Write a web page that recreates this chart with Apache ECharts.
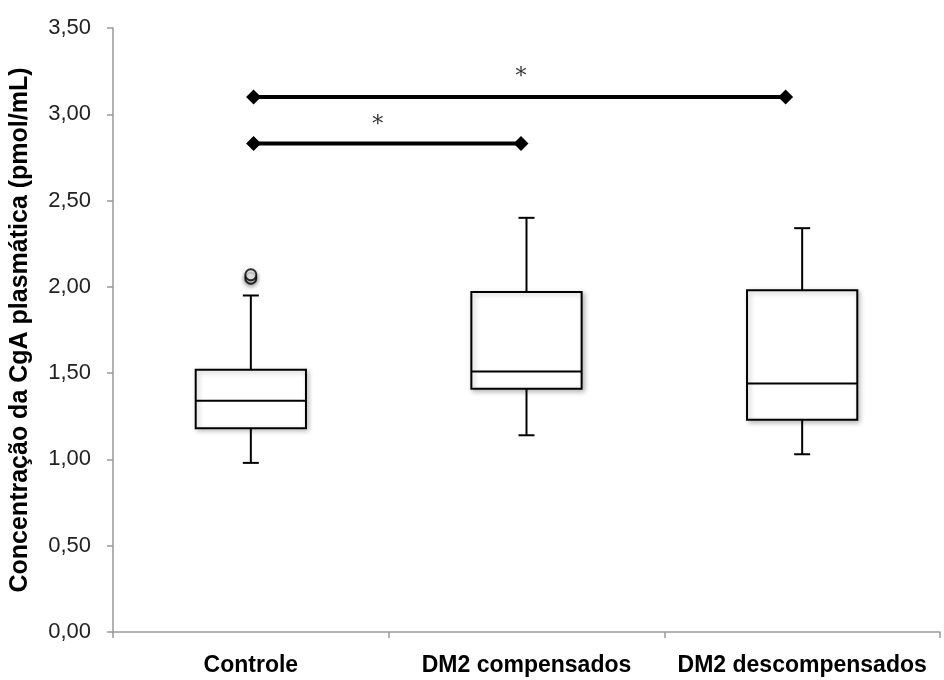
<!DOCTYPE html>
<html>
<head>
<meta charset="utf-8">
<script src="https://cdn.jsdelivr.net/npm/echarts@6/dist/echarts.min.js"></script>
<style>
  html, body { margin: 0; padding: 0; background: #fff; }
  #chart { width: 944px; height: 680px; }
</style>
</head>
<body>
<div id="chart"></div>
<script>
// groups on the x axis
const categories = ['Controle', 'DM2 compensados', 'DM2 descompensados']
// [min, Q1, mediana, Q3, max]
const boxValues = [
  [0.98, 1.18, 1.34, 1.52, 1.95],
  [1.14, 1.41, 1.51, 1.97, 2.40],
  [1.03, 1.23, 1.44, 1.98, 2.34]
]
// [category index, value]
const outliers = [[0, 2.05], [0, 2.07]]
// significance bars on a 0..3 value scale: [xStart, xEnd, y]
const sigBars = [[0.51, 2.44, 3.10], [0.51, 1.48, 2.83]]
// asterisks: [x, y]
const sigStars = [[1.48, 3.215], [0.96, 2.935]]
const yMin = 0
const yMax = 3.5
const yInterval = 0.5

const chart = echarts.init(document.getElementById('chart'))

function renderBox(params, api) {
  const idx = api.value(0)
  const low = api.coord([idx, api.value(1)])
  const q1 = api.coord([idx, api.value(2)])
  const med = api.coord([idx, api.value(3)])
  const q3 = api.coord([idx, api.value(4)])
  const high = api.coord([idx, api.value(5)])
  const half = api.size([1, 0])[0] * 0.2
  const cap = 8
  const x = low[0]
  const line = { stroke: '#000', lineWidth: 2 }
  return {
    type: 'group',
    children: [
      { type: 'line', shape: { x1: x, y1: high[1], x2: x, y2: q3[1] }, style: line },
      { type: 'line', shape: { x1: x - cap, y1: high[1], x2: x + cap, y2: high[1] }, style: line },
      { type: 'line', shape: { x1: x, y1: q1[1], x2: x, y2: low[1] }, style: line },
      { type: 'line', shape: { x1: x - cap, y1: low[1], x2: x + cap, y2: low[1] }, style: line },
      {
        type: 'rect',
        shape: { x: x - half, y: q3[1], width: half * 2, height: q1[1] - q3[1] },
        style: {
          fill: '#fff', stroke: '#000', lineWidth: 2,
          shadowBlur: 5, shadowColor: 'rgba(0,0,0,0.25)', shadowOffsetX: 2, shadowOffsetY: 2
        }
      },
      { type: 'line', shape: { x1: x - half, y1: med[1], x2: x + half, y2: med[1] }, style: line }
    ]
  }
}

const series = [
  {
    type: 'custom',
    renderItem: renderBox,
    data: boxValues.map((b, i) => [i].concat(b)),
    z: 2
  },
  {
    type: 'scatter',
    data: outliers,
    symbol: 'circle',
    symbolSize: 11,
    itemStyle: {
      color: '#fff', borderColor: '#000', borderWidth: 2,
      shadowBlur: 5, shadowColor: 'rgba(0,0,0,0.4)', shadowOffsetY: 2
    },
    z: 3
  }
]

sigBars.forEach(function(b) {
  series.push({
    type: 'line',
    xAxisIndex: 1,
    data: [[b[0], b[2]], [b[1], b[2]]],
    symbol: 'diamond',
    symbolSize: 15,
    showSymbol: true,
    itemStyle: { color: '#000' },
    lineStyle: { color: '#000', width: 4 },
    z: 4
  })
})

series.push({
  type: 'scatter',
  xAxisIndex: 1,
  data: sigStars,
  symbolSize: 1,
  itemStyle: { color: 'rgba(0,0,0,0)' },
  label: {
    show: true,
    position: 'inside',
    formatter: '*',
    fontFamily: 'DejaVu Serif',
    fontSize: 22,
    color: '#000'
  },
  z: 5
})

const option = {
  animation: false,
  backgroundColor: '#fff',
  grid: { left: 113, right: 4, top: 28, bottom: 48 },
  xAxis: [
    {
      type: 'category',
      data: categories,
      boundaryGap: true,
      axisLine: { lineStyle: { color: '#999', width: 1.5 } },
      axisTick: { show: true, length: 6, interval: 0, lineStyle: { color: '#999', width: 1.5 } },
      axisLabel: {
        margin: 22,
        interval: 0,
        color: '#000',
        fontFamily: 'Liberation Sans',
        fontWeight: 'bold',
        fontSize: 23
      },
      splitLine: { show: false }
    },
    {
      type: 'value',
      min: 0,
      max: 3,
      show: false
    }
  ],
  yAxis: {
    type: 'value',
    min: yMin,
    max: yMax,
    interval: yInterval,
    name: 'Concentração da CgA plasmática (pmol/mL)',
    nameLocation: 'middle',
    nameGap: 80,
    nameTextStyle: {
      color: '#000',
      fontFamily: 'Liberation Sans',
      fontWeight: 'bold',
      fontSize: 25
    },
    axisLine: { show: true, lineStyle: { color: '#999', width: 1.5 } },
    axisTick: { show: true, length: 6, lineStyle: { color: '#999', width: 1.5 } },
    axisLabel: {
      margin: 22,
      color: '#222',
      fontFamily: 'Liberation Sans',
      fontSize: 22,
      formatter: function(v) {
        return v.toFixed(2).replace('.', ',')
      }
    },
    splitLine: { show: false }
  },
  series: series
}

chart.setOption(option)
</script>
</body>
</html>
